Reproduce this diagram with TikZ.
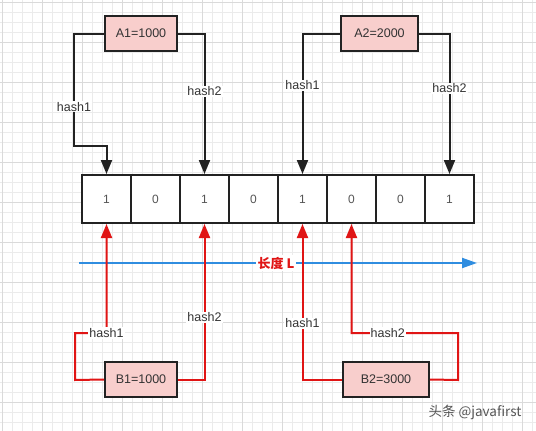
\documentclass[tikz,border=0pt]{standalone}
\usepackage{fontspec}
\setmainfont{Liberation Sans}
\newfontfamily\cjk{Noto Sans CJK SC}
\usetikzlibrary{arrows.meta}
\definecolor{boxfill}{HTML}{F8CECC}
\definecolor{edgeblack}{HTML}{222222}
\definecolor{edgered}{HTML}{E01515}
\definecolor{lineblue}{HTML}{2F8DE0}
\definecolor{txt}{HTML}{333333}
\definecolor{celltxt}{HTML}{555555}
\definecolor{gridminor}{HTML}{EBEBEB}
\definecolor{gridmajor}{HTML}{DADADA}
\definecolor{marktxt}{HTML}{555555}
\tikzset{
  keybox/.style={draw=edgeblack, fill=boxfill, line width=2pt, minimum height=35pt, inner sep=0pt, font=\fontsize{12.5}{14}\selectfont, text=txt},
  cell/.style={draw=edgeblack, fill=white, line width=2pt, minimum width=49pt, minimum height=48pt, inner sep=0pt, font=\fontsize{12}{14}\selectfont, text=celltxt},
  blackedge/.style={draw=edgeblack, line width=2pt, -{Triangle[width=11pt,length=14pt]}},
  rededge/.style={draw=edgered, line width=2pt, -{Triangle[width=11pt,length=14pt]}},
  blueline/.style={draw=lineblue, line width=2pt, -{Triangle[width=10pt,length=15pt]}},
  lbl/.style={fill=white, inner sep=1pt, font=\fontsize{12.5}{14}\selectfont, text=txt},
  lenlbl/.style={fill=white, inner sep=1.5pt, font=\cjk\bfseries\fontsize{13}{15}\selectfont, text=edgered},
}
\begin{document}
\begin{tikzpicture}[x=1pt,y=-1pt]
\useasboundingbox (0,0) rectangle (536,431);
\fill[white] (0,0) rectangle (536,431);
% grid
\foreach \i in {2,12,...,536} \draw[gridminor, line width=0.6pt] (\i,0) -- (\i,431);
\foreach \j in {2,12,...,431} \draw[gridminor, line width=0.6pt] (0,\j) -- (536,\j);
\foreach \i in {2,42,...,536} \draw[gridmajor, line width=0.7pt] (\i,0) -- (\i,431);
\foreach \j in {2,42,...,431} \draw[gridmajor, line width=0.7pt] (0,\j) -- (536,\j);

% array cells
\node[cell] (c1) at (106.5,199) {1};
\node[cell] (c2) at (155.5,199) {0};
\node[cell] (c3) at (204.5,199) {1};
\node[cell] (c4) at (253.5,199) {0};
\node[cell] (c5) at (302.5,199) {1};
\node[cell] (c6) at (351.5,199) {0};
\node[cell] (c7) at (400.5,199) {0};
\node[cell] (c8) at (449.5,199) {1};

% key boxes
\node[keybox, minimum width=72pt] (A1) at (141,33.5) {A1=1000};
\node[keybox, minimum width=77pt] (A2) at (379.5,33.5) {A2=2000};
\node[keybox, minimum width=72pt] (B1) at (141,379.5) {B1=1000};
\node[keybox, minimum width=86pt] (B2) at (386,379.5) {B2=3000};

% length axis
\coordinate (Ls) at (79,263);
\coordinate (Le) at (477,263);
\draw[blueline] (Ls) -- node[lenlbl, pos=0.495] (len) {长度 L} (Le);

% A1 edges
\coordinate (a1p) at (74,33.5);
\coordinate (a1q) at (74,146);
\coordinate (a1c) at (c1.north |- a1q);
\draw[blackedge] (A1.west) -- (a1p) -- node[lbl, pos=0.65] {hash1} (a1q) -- (a1c) -- (c1.north);
\coordinate (a1r) at (c3.north |- A1.east);
\draw[blackedge] (A1.east) -- (a1r) -- node[lbl, pos=0.41] {hash2} (c3.north);

% A2 edges
\coordinate (a2l) at (c5.north |- A2.west);
\draw[blackedge] (A2.west) -- (a2l) -- node[lbl, pos=0.37] {hash1} (c5.north);
\coordinate (a2r) at (c8.north |- A2.east);
\draw[blackedge] (A2.east) -- (a2r) -- node[lbl, pos=0.39] {hash2} (c8.north);

% B1 edges
\coordinate (b1p) at (75,380);
\coordinate (b1q) at (75,333);
\coordinate (b1c) at (c1.south |- b1q);
\draw[rededge] (B1.west) -- (b1p) -- (b1q) -- (b1c) -- (c1.south);
\node[lbl] (b1h1) at (b1c) {hash1};
\coordinate (b1r) at (c3.south |- B1.east);
\draw[rededge] (B1.east) -- (b1r) -- node[lbl, pos=0.40] {hash2} (c3.south);

% B2 edges
\coordinate (b2l) at (c5.south |- B2.west);
\draw[rededge] (B2.west) -- (b2l) -- node[lbl, pos=0.36] {hash1} (c5.south);
\coordinate (b2p) at (458,380);
\coordinate (b2q) at (458,333);
\coordinate (b2c) at (c6.south |- b2q);
\draw[rededge] (B2.east) -- (b2p) -- (b2q) -- node[lbl, pos=0.66] {hash2} (b2c) -- (c6.south);

% watermark
\node[font=\cjk\fontsize{13.5}{15}\selectfont, text=marktxt] (mark) at (475,412) {头条 @javafirst};
\end{tikzpicture}
\end{document}
